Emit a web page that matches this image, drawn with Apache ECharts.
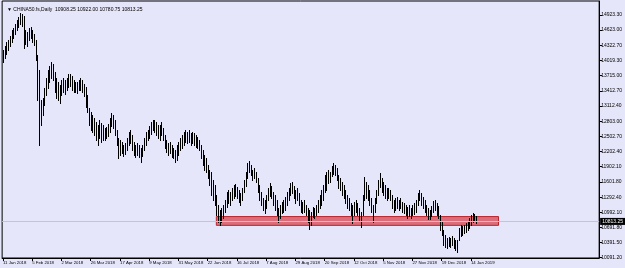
<!DOCTYPE html>
<html>
<head>
<meta charset="utf-8">
<script src="https://cdn.jsdelivr.net/npm/echarts@6/dist/echarts.min.js"></script>
<style>
  html, body { margin: 0; padding: 0; background: #E6E6FA; }
  #chart { width: 625px; height: 268px; }
</style>
</head>
<body>
<div id="chart"></div>
<script>
// ---- Data (CHINA50.fs, Daily) ----
const symbolTitle = "\u25BC CHINA50.fs,Daily  10908.25 10922.00 10780.75 10813.25";

const opens = [
14030,14155,14235,14315,14360,14440,14550,14600,14680,14760,
14820,14880,14770,14420,14520,14480,14600,14540,14450,14360,
14090,13320,12900,13050,13200,13400,13600,13750,13850,13900,
13700,13450,13350,13300,13450,13560,13480,13580,13640,13690,
13580,13470,13520,13430,13540,13600,13480,13420,13360,13130,
13020,12780,12700,12640,12580,12480,12650,12520,12600,12500,
12620,12660,12720,12830,12900,12750,12580,12380,12200,12300,
12230,12280,12330,12430,12540,12420,12280,12180,12250,12180,
12140,12220,12300,12420,12530,12590,12670,12740,12780,12700,
12620,12560,12690,12620,12480,12330,12250,12300,12200,12140,
12100,12180,12280,12350,12420,12480,12540,12560,12470,12550,
12420,12530,12420,12380,12330,12280,12120,11990,11880,11840,
11720,11600,11420,11300,11200,11010,10880,10950,11000,11080,
11190,11340,11300,11360,11430,11480,11420,11350,11260,11330,
11440,11590,11740,11920,11870,11790,11700,11780,11650,11460,
11300,11200,11100,11180,11290,11420,11500,11340,11220,11100,
10990,10900,11060,11130,11180,11250,11350,11420,11520,11430,
11350,11300,11280,11180,11080,11150,11040,10990,10880,10800,
10950,11040,10960,11090,11190,11290,11390,11490,11680,11740,
11780,11740,11860,11900,11810,11680,11540,11500,11400,11330,
11240,11140,11090,10990,11080,11130,11060,10980,10890,10960,
11290,11560,11480,11330,11200,11050,11090,11230,11390,11580,
11560,11460,11400,11340,11300,11400,11300,11140,11080,11200,
11140,11180,11120,11060,11030,10990,10950,11000,10980,11050,
11100,11200,11330,11290,11200,11110,11040,10980,10930,10990,
11080,11170,11100,10990,10920,10690,10590,10390,10440,10350,
10440,10380,10460,10330,10300,10460,10630,10580,10680,10700,
10740,10780,10850,10920,10880,10908.25
];

const highs = [
14225,14305,14384,14424,14504,14623,14663,14742,14822,14882,
14961,14941,14902,14623,14583,14663,14683,14623,14543,14424,
14126,13827,13230,13270,13469,13668,13827,13907,13986,13946,
13787,13668,13588,13529,13628,13668,13628,13668,13747,13747,
13708,13628,13588,13588,13628,13668,13628,13548,13489,13330,
13071,12991,12932,12872,12792,12733,12832,12772,12733,12673,
12693,12752,12872,12971,12932,12832,12633,12474,12434,12394,
12335,12374,12474,12593,12633,12534,12394,12335,12374,12335,
12275,12335,12474,12593,12633,12713,12792,12832,12832,12792,
12733,12733,12792,12673,12534,12434,12374,12394,12335,12275,
12235,12335,12394,12474,12534,12593,12633,12593,12633,12573,
12593,12573,12534,12494,12434,12335,12235,12136,12076,11937,
11837,11797,11638,11539,11340,11141,11041,11081,11141,11240,
11399,11439,11399,11479,11539,11558,11499,11439,11379,11479,
11638,11797,11976,12016,11937,11837,11877,11797,11678,11539,
11399,11280,11240,11340,11479,11578,11519,11399,11340,11240,
11081,11141,11200,11240,11300,11399,11479,11578,11598,11519,
11439,11479,11379,11240,11200,11240,11141,11081,11041,11001,
11101,11081,11141,11240,11340,11439,11539,11738,11797,11837,
11797,11917,11976,11937,11877,11738,11678,11598,11539,11439,
11340,11280,11180,11141,11200,11240,11180,11081,11001,11340,
11698,11598,11539,11439,11280,11141,11280,11439,11638,11777,
11678,11598,11539,11479,11479,11439,11340,11240,11280,11300,
11240,11280,11200,11180,11141,11101,11141,11081,11141,11180,
11240,11379,11439,11379,11300,11240,11141,11081,11041,11121,
11220,11240,11180,11121,10942,10802,10643,10544,10484,10504,
10484,10524,10484,10444,10444,10683,10743,10723,10743,10782,
10802,10882,10942,10981,10961,10922
];

const lows = [
13986,14066,14145,14225,14305,14384,14464,14543,14623,14683,
14742,14703,14265,14344,14305,14424,14464,14384,14325,14026,
13230,12335,12733,12932,13131,13330,13469,13588,13668,13628,
13389,13270,13230,13170,13330,13389,13349,13429,13489,13509,
13429,13389,13389,13369,13429,13429,13389,13310,13091,12991,
12733,12633,12593,12534,12434,12335,12474,12394,12434,12434,
12474,12514,12593,12713,12673,12534,12335,12076,12136,12175,
12116,12155,12235,12335,12374,12235,12136,12096,12136,12096,
11996,12116,12235,12335,12434,12474,12553,12633,12593,12534,
12474,12434,12534,12434,12275,12195,12136,12175,12096,12076,
11996,12036,12136,12235,12275,12335,12394,12374,12394,12335,
12374,12335,12295,12275,12235,12076,11937,11837,11797,11678,
11539,11340,11240,11141,10942,10802,10743,10802,10882,11001,
11101,11180,11141,11240,11280,11320,11280,11200,11141,11240,
11399,11519,11678,11797,11738,11638,11678,11598,11399,11240,
11141,11041,10981,11081,11240,11320,11280,11141,11041,10942,
10802,10882,10981,11001,11041,11141,11240,11340,11379,11280,
11180,11240,11141,11001,10981,11001,10942,10802,10663,10743,
10902,10882,10942,11001,11081,11141,11240,11399,11439,11578,
11598,11718,11757,11738,11638,11479,11439,11340,11280,11180,
11081,11041,10942,10782,10942,11001,10942,10842,10703,10942,
11240,11280,11240,11141,11001,10802,11001,11180,11340,11499,
11399,11340,11280,11240,11280,11240,11081,11001,11041,11081,
11041,11081,11001,10981,10942,10882,10922,10882,10942,10961,
11001,11141,11240,11141,11081,11001,10942,10862,10862,10922,
11001,11041,10942,10882,10643,10544,10345,10305,10285,10325,
10305,10345,10285,10245,10205,10444,10524,10544,10583,10603,
10643,10683,10743,10802,10822,10780.75
];

const closes = [
14155,14235,14315,14360,14440,14550,14600,14680,14760,14820,
14880,14770,14420,14520,14480,14600,14540,14450,14360,14090,
13320,12900,13050,13200,13400,13600,13750,13850,13900,13700,
13450,13350,13300,13450,13560,13480,13580,13640,13690,13580,
13470,13520,13430,13540,13600,13480,13420,13360,13130,13020,
12780,12700,12640,12580,12480,12650,12520,12600,12500,12620,
12660,12720,12830,12900,12750,12580,12380,12200,12300,12230,
12280,12330,12430,12540,12420,12280,12180,12250,12180,12140,
12220,12300,12420,12530,12590,12670,12740,12780,12700,12620,
12560,12690,12620,12480,12330,12250,12300,12200,12140,12100,
12180,12280,12350,12420,12480,12540,12560,12470,12580,12420,
12530,12420,12380,12330,12280,12120,11990,11880,11840,11720,
11600,11420,11300,11200,11010,10880,10950,11000,11080,11190,
11340,11300,11360,11430,11480,11420,11350,11260,11330,11440,
11590,11740,11920,11870,11790,11700,11780,11650,11460,11300,
11200,11100,11180,11290,11420,11500,11340,11220,11100,10990,
10900,11060,11130,11180,11250,11350,11420,11520,11430,11350,
11300,11280,11180,11080,11150,11040,10990,10880,10800,10950,
11040,10960,11090,11190,11290,11390,11490,11680,11740,11780,
11740,11860,11900,11810,11680,11540,11500,11400,11330,11240,
11140,11090,10990,11080,11130,11060,10980,10890,10960,11290,
11560,11480,11330,11200,11050,11090,11230,11390,11580,11560,
11460,11400,11340,11300,11400,11300,11140,11080,11200,11140,
11180,11120,11060,11030,10990,10950,11000,10980,11050,11100,
11200,11330,11290,11200,11110,11040,10980,10930,10990,11080,
11170,11100,10990,10920,10690,10590,10390,10440,10350,10440,
10380,10460,10330,10300,10400,10630,10580,10680,10700,10740,
10780,10850,10920,10880,10905,10813.25
];

// Date labels on the time scale (one every 17 bars, first bar = 11 Jan 2018)
const xTickLabels = ["11 Jan 2018","5 Feb 2018","2 Mar 2018","26 Mar 2018","17 Apr 2018",
  "9 May 2018","31 May 2018","22 Jun 2018","16 Jul 2018","7 Aug 2018","29 Aug 2018",
  "20 Sep 2018","12 Oct 2018","5 Nov 2018","27 Nov 2018","19 Dec 2018","14 Jan 2019"];
const barsPerLabel = 17;
const totalSlots = 347; // bars + empty right shift area

// Price scale tick labels
const yTickValues = [14923.30,14623.00,14322.70,14019.30,13715.00,13412.70,13112.40,12803.00,
  12502.70,12202.40,11902.10,11601.80,11292.40,10992.10,10691.80,10391.50,10091.20];
const yMin = 10085, yMax = 15202;

// Support zone rectangle and current price
const zoneStartBar = 124, zoneEndBar = 288;
const zoneTop = 10910, zoneBottom = 10735;
const lastPrice = 10813.25;

// ---- Build ----
const categories = [];
for (let i = 0; i < totalSlots; i++) categories.push(String(i));
const barData = opens.map((o, i) => [i, o, highs[i], lows[i], closes[i]]);

const FONT = 'Liberation Sans, Arial, sans-serif';
const showTick = (idx) => idx % barsPerLabel === 0 && idx / barsPerLabel < xTickLabels.length;

function renderBar(params, api) {
  const i = api.value(0);
  const hi = api.coord([i, api.value(2)]);
  const lo = api.coord([i, api.value(3)]);
  const x = Math.round(hi[0]) + 0.5;
  return {
    type: 'line',
    shape: { x1: x, y1: Math.round(hi[1]), x2: x, y2: Math.round(lo[1]) + 1 },
    style: { stroke: '#000', lineWidth: 1 }
  };
}

const chart = echarts.init(document.getElementById('chart'), null, { renderer: 'canvas' });
chart.setOption({
  animation: false,
  backgroundColor: '#E6E6FA',
  title: {
    text: symbolTitle,
    left: 2, top: 2,
    textStyle: { fontSize: 5, fontWeight: 'normal', color: '#000', fontFamily: FONT }
  },
  grid: { left: 1, right: 24, top: 1, bottom: 10, show: true, borderColor: '#000', borderWidth: 1, backgroundColor: 'transparent' },
  xAxis: {
    type: 'category',
    data: categories,
    boundaryGap: true,
    axisLine: { show: true, lineStyle: { color: '#000', width: 1 } },
    axisTick: { show: true, alignWithLabel: true, interval: showTick, length: 3, lineStyle: { color: '#000' } },
    axisLabel: {
      show: true, interval: showTick, align: 'left', margin: 3,
      fontSize: 4.3, color: '#000', fontFamily: FONT,
      formatter: (v, idx) => xTickLabels[idx / barsPerLabel] || ''
    },
    splitLine: { show: false }
  },
  yAxis: {
    type: 'value',
    position: 'right',
    min: yMin, max: yMax,
    axisLine: { show: true, lineStyle: { color: '#000', width: 1 } },
    axisTick: { show: true, customValues: yTickValues, length: 3, lineStyle: { color: '#000' } },
    axisLabel: {
      show: true, customValues: yTickValues, margin: 2,
      fontSize: 5, color: '#000', fontFamily: FONT,
      formatter: v => Number(v).toFixed(2)
    },
    splitLine: { show: false }
  },
  series: [
    {
      type: 'line',
      data: [],
      silent: true,
      markArea: {
        silent: true,
        itemStyle: { color: 'rgba(214,62,70,0.72)', borderColor: '#b8232b', borderWidth: 1 },
        data: [[{ xAxis: zoneStartBar, yAxis: zoneTop }, { xAxis: zoneEndBar, yAxis: zoneBottom }]]
      },
      markLine: {
        silent: true,
        symbol: ['none', 'none'],
        lineStyle: { color: '#c4c4d2', width: 1, type: 'solid' },
        label: {
          show: true, position: 'end', distance: 1,
          formatter: lastPrice.toFixed(2),
          backgroundColor: '#000', color: '#fff', padding: [1, 2],
          fontSize: 5, fontFamily: FONT
        },
        data: [{ yAxis: lastPrice }]
      }
    },
    {
      type: 'custom',
      data: barData,
      encode: { x: 0, y: [1, 2, 3, 4] },
      renderItem: renderBar,
      z: 3
    }
  ]
});
</script>
</body>
</html>
